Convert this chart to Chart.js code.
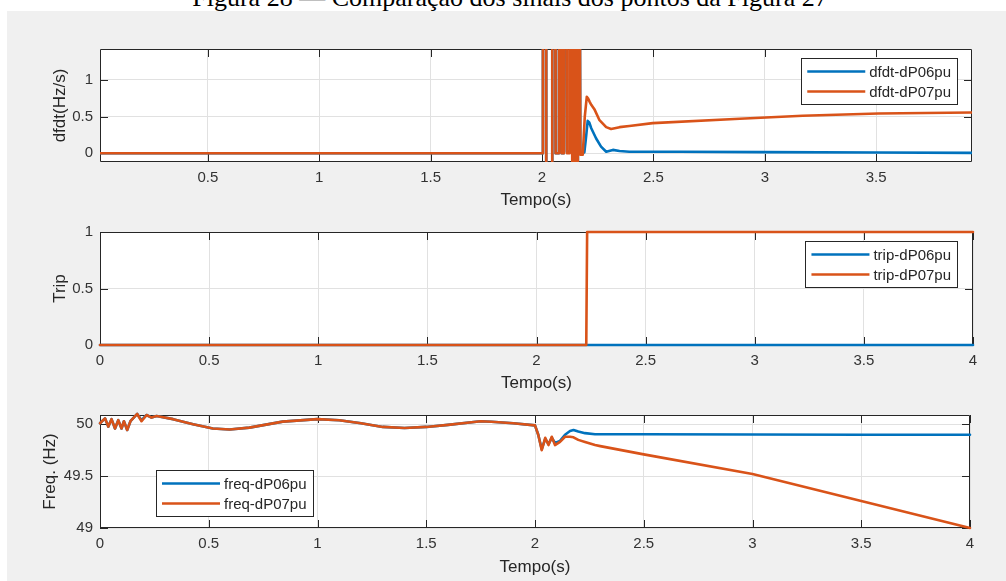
<!DOCTYPE html>
<html>
<head>
<meta charset="utf-8">
<script src="https://cdn.jsdelivr.net/npm/chart.js@4.4.1/dist/chart.umd.min.js"></script>
<style>
  html, body { margin: 0; padding: 0; background: #fff; }
  #page { position: relative; width: 1006px; height: 581px; overflow: hidden; }
  #fig { position: absolute; left: 7px; top: 11px; right: 0; bottom: 0; background: #f0f0f0; }
  #caption { position: absolute; left: 7px; top: -17px; width: 1006px; text-align: center;
             font: 26px "Liberation Serif", "Times New Roman", serif; line-height: 30px;
             color: #000; white-space: nowrap; }
  canvas { position: absolute; left: 0; top: 0; }
</style>
</head>
<body>
<div id="page">
  <div id="caption">Figura 28 — Comparação dos sinais dos pontos da Figura 27</div>
  <div id="fig"></div>
  <canvas id="dfdtChart" width="1006" height="581"></canvas>
  <canvas id="tripChart" width="1006" height="581"></canvas>
  <canvas id="freqChart" width="1006" height="581"></canvas>
</div>
<script>
// colours (MATLAB default order)
const BLUE = '#0072BD';
const ORANGE = '#D95319';

// --- panel 1: df/dt ---
const dfdtTime06 = [0.016, 2.002, 2.004, 2.018, 2.019, 2.045, 2.046, 2.059, 2.061, 2.074, 2.076, 2.086, 2.088, 2.098,
  2.100, 2.110, 2.112, 2.140, 2.144, 2.152, 2.154, 2.160, 2.161, 2.169, 2.172, 2.190, 2.197, 2.205, 2.212, 2.221,
  2.243, 2.265, 2.288, 2.318, 2.348, 2.392, 2.617, 3.0, 3.5, 3.93];
const dfdt06 = [0, 0, 3, 3, -1, -1, 3, 3, 0, 0, 3, 3, 0, 0,
  3, 3, 0.02, 0.03, 3, 3, -1, -1, 3, 3, 0, 0.01, 0.2, 0.44, 0.42, 0.34,
  0.2, 0.09, 0.02, 0.045, 0.03, 0.02, 0.02, 0.015, 0.01, 0.005];
const dfdtTime07 = [0.016, 2.002, 2.004, 2.018, 2.019, 2.045, 2.046, 2.059, 2.061, 2.074, 2.076, 2.086, 2.088, 2.098,
  2.100, 2.110, 2.112, 2.122, 2.124, 2.134, 2.136, 2.143, 2.145, 2.152, 2.154, 2.160, 2.161, 2.169, 2.172, 2.183,
  2.192, 2.201, 2.206, 2.214, 2.221, 2.235, 2.258, 2.288, 2.310, 2.348, 2.392, 2.497, 2.887, 3.17, 3.51, 3.93];
const dfdt07 = [0, 0, 3, 3, -1, -1, 3, 3, 0, 0, 3, 3, 0, 0,
  3, 3, 0, 0, 3, 3, -1, -1, 3, 3, -1, -1, 3, 3, -0.02, -0.02,
  0.5, 0.77, 0.75, 0.7, 0.66, 0.6, 0.45, 0.355, 0.33, 0.355, 0.37, 0.41, 0.47, 0.51, 0.54, 0.555];
const dfdtTicksX = [0.5, 1, 1.5, 2, 2.5, 3, 3.5];
const dfdtTicksY = [0, 0.5, 1];

// --- panel 2: trip ---
const tripTime = [0, 2.228, 2.232, 4];
const trip06 = [0, 0, 0, 0];
const trip07 = [0, 0, 1, 1];
const tripTicksX = [0, 0.5, 1, 1.5, 2, 2.5, 3, 3.5, 4];
const tripTicksY = [0, 0.5, 1];

// --- panel 3: frequency ---
const freqTime = [0, 0.023, 0.038, 0.053, 0.069, 0.084, 0.099, 0.11, 0.125, 0.14, 0.153, 0.171, 0.191, 0.214,
  0.237, 0.26, 0.336, 0.428, 0.519, 0.596, 0.687, 0.84, 1.0, 1.1, 1.2, 1.3, 1.4, 1.5, 1.6, 1.75, 1.8, 1.9,
  2.0, 2.015, 2.031, 2.047, 2.062, 2.077, 2.092, 2.115, 2.138, 2.161, 2.177, 2.199, 2.23, 2.276, 2.3, 2.5,
  3.0, 3.5, 4.0];
const freq06 = [50.01, 50.058, 49.978, 50.05, 49.96, 50.04, 49.96, 50.03, 49.945, 50.03, 50.06, 50.1, 50.04, 50.09,
  50.065, 50.08, 50.05, 50.0, 49.96, 49.95, 49.968, 50.026, 50.05, 50.04, 50.01, 49.975, 49.965, 49.975, 49.995, 50.03, 50.025, 50.01,
  49.99, 49.9, 49.76, 49.86, 49.81, 49.87, 49.82, 49.84, 49.9, 49.935, 49.945, 49.93, 49.915, 49.905, 49.905, 49.905,
  49.902, 49.9, 49.9];
const freq07 = [50.01, 50.058, 49.978, 50.05, 49.96, 50.04, 49.96, 50.03, 49.945, 50.03, 50.06, 50.1, 50.03, 50.09,
  50.065, 50.08, 50.05, 50.0, 49.96, 49.95, 49.968, 50.026, 50.05, 50.04, 50.01, 49.975, 49.965, 49.975, 49.995, 50.03, 50.025, 50.01,
  49.99, 49.9, 49.75, 49.87, 49.8, 49.88, 49.8, 49.83, 49.88, 49.88, 49.875, 49.85, 49.83, 49.8, 49.79, 49.71,
  49.52, 49.26, 49.0];
const freqTicksX = [0, 0.5, 1, 1.5, 2, 2.5, 3, 3.5, 4];
const freqTicksY = [49, 49.5, 50];

Chart.defaults.font.family = 'Arial, "Liberation Sans", Helvetica, sans-serif';
Chart.defaults.color = '#333';

function toPoints(xs, ys) {
  return xs.map((x, i) => ({ x: x, y: ys[i] }));
}

// white axes background, box with inward ticks, boxed legend
const matlabAxes = {
  id: 'matlabAxes',
  beforeDraw(chart) {
    const a = chart.chartArea;
    const ctx = chart.ctx;
    ctx.save();
    ctx.fillStyle = '#ffffff';
    ctx.fillRect(a.left, a.top, a.right - a.left, a.bottom - a.top);
    ctx.restore();
  },
  beforeDatasetsDraw(chart) {
    const a = chart.chartArea;
    const ctx = chart.ctx;
    const xs = chart.scales.x, ys = chart.scales.y;
    const len = 8;
    ctx.save();
    ctx.strokeStyle = '#262626';
    ctx.lineWidth = 1;
    ctx.beginPath();
    ctx.rect(a.left + 0.5, a.top + 0.5, a.right - a.left - 1, a.bottom - a.top - 1);
    xs.ticks.forEach(t => {
      const px = Math.round(xs.getPixelForValue(t.value)) + 0.5;
      ctx.moveTo(px, a.bottom); ctx.lineTo(px, a.bottom - len);
      ctx.moveTo(px, a.top); ctx.lineTo(px, a.top + len);
    });
    ys.ticks.forEach(t => {
      const py = Math.round(ys.getPixelForValue(t.value)) + 0.5;
      ctx.moveTo(a.left, py); ctx.lineTo(a.left + len, py);
      ctx.moveTo(a.right, py); ctx.lineTo(a.right - len, py);
    });
    ctx.stroke();
    ctx.restore();
  },
  afterDraw(chart, args, opts) {
    const a = chart.chartArea;
    const ctx = chart.ctx;
    const sets = chart.data.datasets;
    ctx.save();
    ctx.font = '15px Arial, "Liberation Sans", sans-serif';
    const textW = Math.max(...sets.map(d => ctx.measureText(d.label).width));
    const w = 68 + textW + 6, h = 46;
    const x0 = opts.corner === 'ne' ? a.right - opts.dx - w : a.left + opts.dx;
    const y0 = opts.corner === 'ne' ? a.top + opts.dy : a.bottom - opts.dy - h;
    ctx.fillStyle = '#fff';
    ctx.fillRect(x0, y0, w, h);
    ctx.strokeStyle = '#262626';
    ctx.lineWidth = 1;
    ctx.strokeRect(Math.round(x0) + 0.5, Math.round(y0) + 0.5, Math.round(w), h);
    sets.forEach((d, i) => {
      const yy = y0 + 13.5 + i * 20;
      ctx.strokeStyle = d.borderColor;
      ctx.lineWidth = 2.6;
      ctx.beginPath();
      ctx.moveTo(x0 + 6, yy);
      ctx.lineTo(x0 + 64, yy);
      ctx.stroke();
      ctx.fillStyle = '#262626';
      ctx.textBaseline = 'middle';
      ctx.fillText(d.label, x0 + 68, yy + 1);
    });
    ctx.restore();
  }
};

function makePanel(id, p) {
  const W = 1006, H = 581;
  return new Chart(document.getElementById(id).getContext('2d'), {
    type: 'line',
    data: {
      datasets: [
        { label: p.labels[0], data: toPoints(p.t06, p.y06), borderColor: BLUE, order: 1, clip: p.clip },
        { label: p.labels[1], data: toPoints(p.t07, p.y07), borderColor: ORANGE, order: 0, clip: p.clip }
      ]
    },
    options: {
      responsive: false,
      animation: false,
      events: [],
      layout: {
        padding: {
          left: p.area.left - p.yw,
          top: p.area.top,
          right: W - p.area.right,
          bottom: H - p.area.bottom - p.xh
        }
      },
      elements: {
        point: { radius: 0 },
        line: { borderWidth: 2.6, tension: 0, borderJoinStyle: 'round', borderCapStyle: 'round' }
      },
      scales: {
        x: {
          type: 'linear',
          min: p.xmin, max: p.xmax,
          afterBuildTicks: s => { s.ticks = p.ticksX.map(v => ({ value: v })); },
          afterFit: s => { s.height = p.xh; },
          ticks: { padding: 7, maxRotation: 0, autoSkip: false, font: { size: 15 }, callback: v => String(v) },
          grid: { color: '#e1e1e1', lineWidth: 1, drawTicks: false },
          border: { display: false },
          title: { display: true, text: 'Tempo(s)', font: { size: 17 }, color: '#262626', padding: 0 }
        },
        y: {
          type: 'linear',
          min: p.ymin, max: p.ymax,
          afterBuildTicks: s => { s.ticks = p.ticksY.map(v => ({ value: v })); },
          afterFit: s => { s.width = p.yw; },
          ticks: { padding: 7, autoSkip: false, font: { size: 15 }, callback: v => String(v) },
          grid: { color: '#e1e1e1', lineWidth: 1, drawTicks: false },
          border: { display: false },
          title: { display: true, text: p.ytitle, font: { size: 17 }, color: '#262626', padding: 0 }
        }
      },
      plugins: {
        legend: { display: false },
        tooltip: { enabled: false },
        matlabAxes: p.legend
      }
    },
    plugins: [matlabAxes]
  });
}

makePanel('dfdtChart', {
  labels: ['dfdt-dP06pu', 'dfdt-dP07pu'],
  t06: dfdtTime06, y06: dfdt06, t07: dfdtTime07, y07: dfdt07,
  xmin: 0.016, xmax: 3.93, ymin: -0.12, ymax: 1.42,
  ticksX: dfdtTicksX, ticksY: dfdtTicksY,
  ytitle: 'dfdt(Hz/s)',
  area: { left: 100, top: 49, right: 972, bottom: 162 }, xh: 49, yw: 50,
  clip: 0,
  legend: { corner: 'ne', dx: 15, dy: 9 }
});

makePanel('tripChart', {
  labels: ['trip-dP06pu', 'trip-dP07pu'],
  t06: tripTime, y06: trip06, t07: tripTime, y07: trip07,
  xmin: 0, xmax: 4, ymin: 0, ymax: 1,
  ticksX: tripTicksX, ticksY: tripTicksY,
  ytitle: 'Trip',
  area: { left: 100, top: 232, right: 973, bottom: 345 }, xh: 49, yw: 50,
  clip: 3,
  legend: { corner: 'ne', dx: 16, dy: 9 }
});

makePanel('freqChart', {
  labels: ['freq-dP06pu', 'freq-dP07pu'],
  t06: freqTime, y06: freq06, t07: freqTime, y07: freq07,
  xmin: 0, xmax: 4, ymin: 49, ymax: 50.09,
  ticksX: freqTicksX, ticksY: freqTicksY,
  ytitle: 'Freq. (Hz)',
  area: { left: 100, top: 415, right: 970, bottom: 528 }, xh: 50, yw: 60,
  clip: 3,
  legend: { corner: 'sw', dx: 56, dy: 12 }
});
</script>
</body>
</html>
